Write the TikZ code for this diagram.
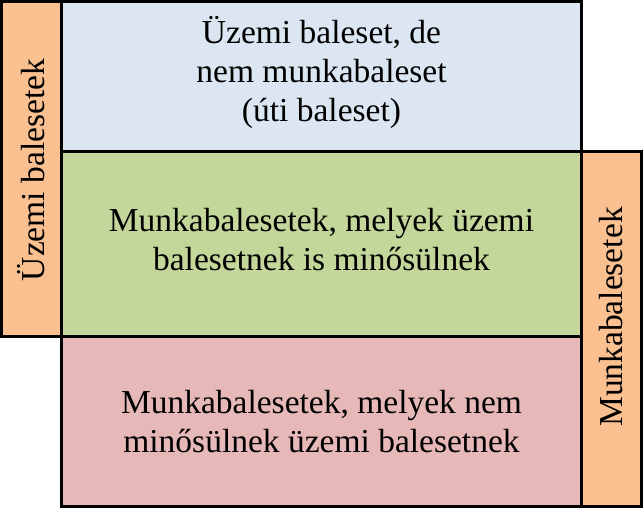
\documentclass[tikz,border=0pt]{standalone}
\usepackage{fontspec}
\setmainfont{Liberation Serif}
\usepackage{tikz}
\definecolor{narancs}{HTML}{FAC090}
\definecolor{kek}{HTML}{DCE6F2}
\definecolor{zold}{HTML}{C4D79B}
\definecolor{piros}{HTML}{E6B9B8}

\begin{document}
\begin{tikzpicture}[x=1pt,y=-1pt,
  doboz/.style={draw,line width=3pt,inner sep=0pt,outer sep=0pt},
  szoveg/.style={align=center,inner sep=0pt,font=\fontsize{33.5}{39}\selectfont},
  felirat/.style={szoveg,rotate=90}]
\useasboundingbox (0,0) rectangle (643,508);
% oldalso savok es dobozok
\node[doboz,fill=narancs,minimum width=60pt,minimum height=334.5pt] (bal) at (31.5,168.75) {};
\node[doboz,fill=kek,minimum width=520pt,minimum height=150pt] (felso) at (321.5,76.5) {};
\node[doboz,fill=zold,minimum width=520pt,minimum height=184.5pt] (kozep) at (321.5,243.75) {};
\node[doboz,fill=piros,minimum width=520pt,minimum height=170.5pt] (also) at (321.5,421.25) {};
\node[doboz,fill=narancs,minimum width=60pt,minimum height=355pt] (jobb) at (611.5,329) {};
% feliratok
\node[felirat] (baltext) at (31.5,170) {Üzemi balesetek};
\node[szoveg] (felsotext) at (321.5,72.5) {Üzemi baleset, de\\nem munkabaleset\\(úti baleset)};
\node[szoveg] (kozeptext) at (321.5,239.5) {Munkabalesetek, melyek üzemi\\balesetnek is minősülnek};
\node[szoveg] (alsotext) at (321.5,422) {Munkabalesetek, melyek nem\\minősülnek üzemi balesetnek};
\node[felirat] (jobbtext) at (611.5,317) {Munkabalesetek};
\end{tikzpicture}
\end{document}
